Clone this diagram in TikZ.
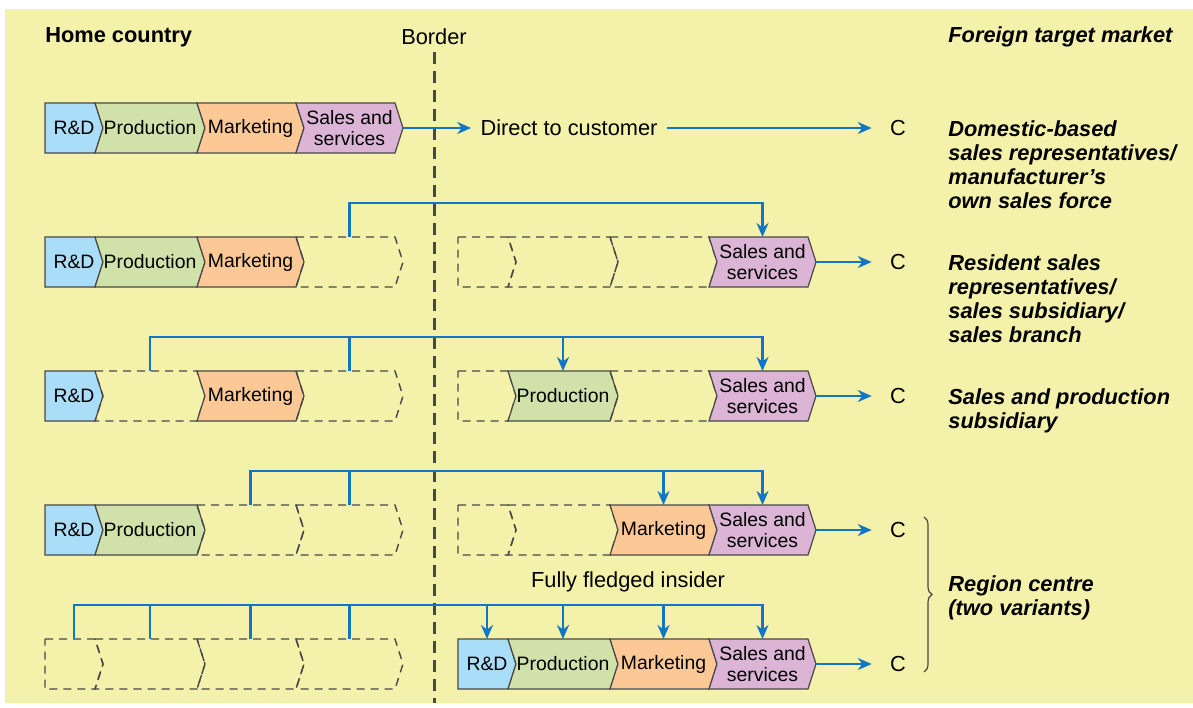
\documentclass[tikz,border=0pt]{standalone}
\usepackage{fontspec}
\setmainfont{Liberation Sans}
\usepackage{tikz}
\usetikzlibrary{arrows.meta, decorations.pathreplacing}
\usepackage{xcolor}
\definecolor{bgYellow}{RGB}{243, 241, 170}
\definecolor{linkBlue}{RGB}{18, 118, 196}
\definecolor{rdBlue}{RGB}{170, 222, 248}
\definecolor{prGreen}{RGB}{208, 226, 170}
\definecolor{mkOrange}{RGB}{252, 201, 150}
\definecolor{ssLilac}{RGB}{219, 180, 214}
\definecolor{edgeGrey}{RGB}{72, 72, 72}

\begin{document}
\begin{tikzpicture}[x=0.5pt, y=-0.5pt,
  segtxt/.style={inner sep=0pt, outer sep=0pt, minimum height=25pt, align=center,
    font=\fontsize{9.7}{10.5}\selectfont},
  filled/.style={draw=edgeGrey, line width=0.6pt},
  slot/.style={draw=edgeGrey, dash pattern=on 4pt off 3pt, line width=0.7pt},
  link/.style={draw=linkBlue, line width=1.4pt, -{Stealth[length=7pt, width=6pt]}},
  txt/.style={inner sep=0pt, font=\fontsize{10.9}{12}\selectfont},
  tag/.style={anchor=north west, inner sep=0pt, align=left,
    font=\fontsize{10.9}{12}\selectfont\bfseries\itshape}]
  \useasboundingbox (0,0) rectangle (1193,707);
  \fill[white] (0,0) rectangle (1193,707);
  \fill[bgYellow] (5,9) rectangle (1193,703);

  % headings and the border
  \node[txt, anchor=west, font=\fontsize{10.9}{12}\selectfont\bfseries] (home) at (45,37) {Home country};
  \node[txt] (border) at (434,37) {Border};
  \node[tag, anchor=west] (foreign) at (948,37) {Foreign target market};
  \draw[edgeGrey, line width=1.5pt, dash pattern=on 6pt off 3.5pt] (434,52) -- (434,703);

  % value chains: 1 = activity at home, 0 = activity abroad
  \foreach \r/\y/\a/\b/\c/\d in {1/128/1/1/1/1, 2/262/1/1/1/0, 3/396/1/0/1/0, 4/530/1/1/0/0, 5/664/0/0/0/0} {
    \foreach \s/\x/\w/\n/\col/\txt [count=\k] in {rd/45/50/0/rdBlue/R\&D, pr/95/102/8/prGreen/Production,
        mk/197/99/8/mkOrange/Marketing, ss/296/99/8/ssLilac/{Sales and\\services}} {
      \pgfmathtruncatemacro\home{{\a,\b,\c,\d}[\k-1]}
      \pgfmathsetmacro\xr{\x+413}
      \ifnum\home=1 \def\fx{\x}\def\ex{\xr}\def\fs{L}\def\es{R}
      \else \def\fx{\xr}\def\ex{\x}\def\fs{R}\def\es{L}\fi
      \draw[filled, fill=\col] (\fx,\y-25) -- ++(\w,0) -- ++(8,25) -- ++(-8,25) -- ++(-\w,0) -- ++(\n,-25) -- cycle;
      \node[segtxt, minimum width=(\w+8)*0.5pt] (\fs\r-\s) at (\fx+\w/2+4,\y) {\txt};
      \ifnum\r>1
        \draw[slot] (\ex,\y-25) -- ++(\w,0) -- ++(8,25) -- ++(-8,25) -- ++(-\w,0) -- ++(\n,-25) -- cycle;
        \node[segtxt, minimum width=(\w+8)*0.5pt] (\es\r-\s) at (\ex+\w/2+4,\y) {};
      \fi
    }
  }

  % customers
  \foreach \r/\y in {1/128, 2/262, 3/396, 4/530, 5/664}
    \node[txt, inner xsep=9pt] (C\r) at (898,\y) {C};
  \node[txt, inner xsep=4.5pt] (direct) at (569,128) {Direct to customer};
  \draw[link] (L1-ss.east) -- (direct);
  \draw[link] (direct) -- (C1);
  \foreach \r in {2,...,5}
    \draw[link] (R\r-ss.east) -- (C\r);

  % transfers across the border
  \foreach \r/\list in {2/{ss}, 3/{pr,ss}, 4/{mk,ss}, 5/{rd,pr,mk,ss}}
    \foreach \s in \list
      \draw[link] (L\r-\s.north) -- ++(0,-34) -| (R\r-\s.north);
  \node[txt] (insider) at (628,582) {Fully fledged insider};

  % entry modes
  \node[tag] (mode1) at (948,120) {Domestic-based\\sales representatives/\\manufacturer’s\\own sales force};
  \node[tag] (mode2) at (948,254) {Resident sales\\representatives/\\sales subsidiary/\\sales branch};
  \node[tag] (mode3) at (948,388) {Sales and production\\subsidiary};
  \node[tag] (mode4) at (948,575) {Region centre\\(two variants)};
  \coordinate (brTop) at (924,517);
  \coordinate (brBot) at (924,672);
  \draw[edgeGrey, line width=0.6pt, decorate, decoration={brace, amplitude=4pt}] (brTop) -- (brBot);
\end{tikzpicture}
\end{document}
